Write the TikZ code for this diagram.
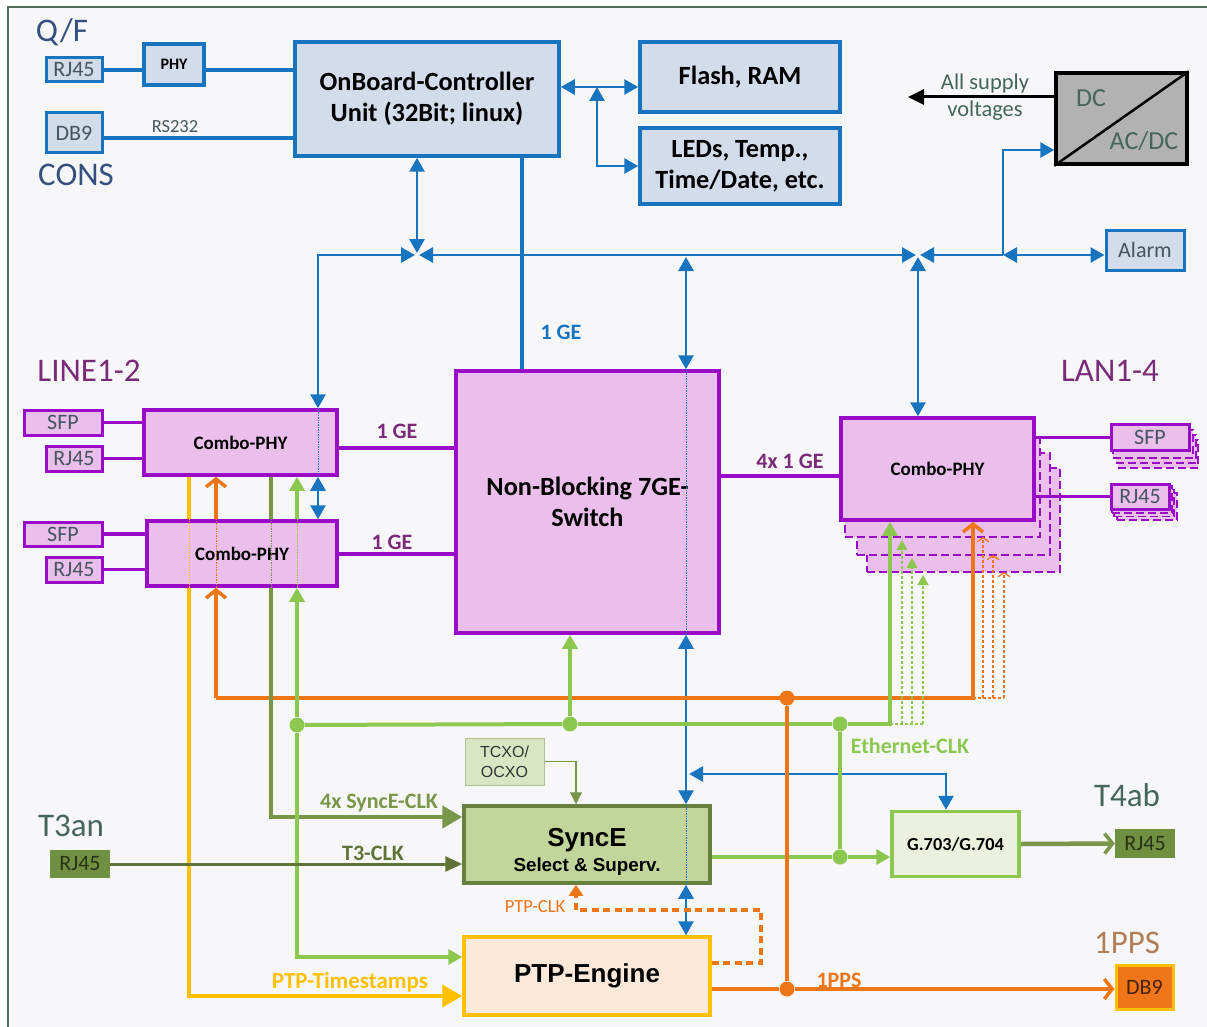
\documentclass[tikz,border=0pt]{standalone}
\usepackage{xcolor}
\usepackage{fontspec}
\usepackage{tikz}
\usetikzlibrary{positioning,arrows.meta,calc}
\setmainfont{Carlito}
\newfontfamily\arialfont{Liberation Sans}
\newcommand{\fsz}[2]{\fontsize{#1}{#2}\selectfont}
\definecolor{pagebg}{HTML}{F7F7F9}
\definecolor{framecol}{HTML}{4F6F5F}
\definecolor{blueline}{HTML}{1874BE}
\definecolor{bluefill}{HTML}{D2DCEA}
\definecolor{bluetext}{HTML}{34507E}
\definecolor{purpline}{HTML}{9A0BC8}
\definecolor{purpfill}{HTML}{EBBFEC}
\definecolor{purptext}{HTML}{7A2A78}
\definecolor{clkgreen}{HTML}{8CC850}
\definecolor{olive}{HTML}{7A9648}
\definecolor{syncefill}{HTML}{C2D69B}
\definecolor{darkolive}{HTML}{5F7436}
\definecolor{rjgreen}{HTML}{6F9040}
\definecolor{orangeline}{HTML}{EE7518}
\definecolor{yellowline}{HTML}{FFC000}
\definecolor{ptpfill}{HTML}{FDE9D9}
\definecolor{gfill}{HTML}{EBF1DE}
\definecolor{greytext}{HTML}{45565F}
\definecolor{labgreen}{HTML}{45665A}
\begin{document}
\begin{tikzpicture}[
  x=1pt, y=-1pt,
  >={Triangle[length=14pt,width=15pt]},
  blubox/.style={draw=blueline, line width=3.5pt, fill=bluefill, align=center, inner sep=0pt, text=black},
  purbox/.style={draw=purpline, line width=3.5pt, fill=purpfill, align=center, inner sep=0pt, text=black},
  ghostbox/.style={draw=purpline, line width=1.2pt, dash pattern=on 8pt off 4pt, fill=purpfill},
  portbox/.style={line width=3pt, inner sep=0pt, text=greytext, font=\fsz{22}{26}},
  biglabel/.style={inner sep=0pt, font=\fsz{33}{38}},
  midlabel/.style={inner sep=0pt, font=\fsz{22}{26}\bfseries},
  comboname/.style={font=\fsz{19}{23}\bfseries},
  bluearr/.style={draw=blueline, line width=2.8pt},
  blueline thick/.style={draw=blueline, line width=3.5pt},
  purline/.style={draw=purpline, line width=3.5pt},
  greenarr/.style={draw=clkgreen, line width=4pt},
  orangearr/.style={draw=orangeline, line width=4pt},
  barbs/.style={>={Straight Barb[length=8pt,width=20pt,line width=3.5pt]}},
  smalltri/.style={>={Triangle[length=10pt,width=11pt]}},
  thinpass/.style={densely dotted, line width=0.7pt},
  dotnode/.style={circle, inner sep=0pt, minimum size=15pt}
]
\useasboundingbox (0,0) rectangle (1207,1027);
\fill[pagebg] (8,7) rectangle (1207,1027);
\draw[framecol, line width=1.5pt] (8,1027) -- (8,7) -- (1207,7);

% controller part
\node[blubox, portbox, minimum width=56, minimum height=24] (rjqf) at (74,70) {RJ45};
\node[blubox, minimum width=60, minimum height=41, font=\fsz{16}{20}\bfseries] (phyqf) at (174,64.5) {PHY};
\node[blubox, portbox, minimum width=56, minimum height=40] (dbcons) at (74,133) {DB9};
\node[blubox, minimum width=264, minimum height=114, font=\fsz{26.3}{31}\bfseries] (onboard) at (427,99) {OnBoard-Controller\\Unit (32Bit; linux)};
\node[blubox, minimum width=200, minimum height=70, font=\fsz{26.3}{31}\bfseries] (flash) at (740,77) {Flash, RAM};
\node[blubox, minimum width=200, minimum height=76, font=\fsz{26.3}{31}\bfseries] (leds) at (740,166) {LEDs, Temp.,\\Time/Date, etc.};
\node[draw=black, line width=3.5pt, fill=black!30, minimum width=131, minimum height=91] (dcbox) at (1121.5,118.5) {};
\node[blubox, line width=3pt, text=greytext, minimum width=78, minimum height=40, font=\fsz{22}{26}] (alarm) at (1145,250) {Alarm};

\node[biglabel, text=bluetext] (lblqf) at (62,32) {Q/F};
\node[biglabel, text=bluetext] (lblcons) at (76,175) {CONS};
\node[inner sep=0pt, text=labgreen, align=center, font=\fsz{22.5}{27}] (lblsupply) at (985,97) {All supply\\voltages};
\node[inner sep=0pt, text=labgreen, font=\fsz{26}{30}] (lbldc) at (1091,98) {DC};
\node[inner sep=0pt, text=labgreen, font=\fsz{26}{30}] (lblacdc) at (1144,141) {AC/DC};
\node[inner sep=0pt, text=greytext, font=\fsz{18.5}{22}] (lblrs) at (175,127) {RS232};
\node[midlabel, text=blueline] (lblgeb) at (561,332) {1 GE};

% ghost boxes of the LAN side
\node[ghostbox, minimum width=193, minimum height=104] (ghostc) at (963.5,520) {};
\node[ghostbox, minimum width=193, minimum height=102] (ghostb) at (953.5,504) {};
\node[ghostbox, minimum width=195, minimum height=99] (ghosta) at (942.5,487.5) {};
\node[ghostbox, minimum width=80, minimum height=28] (sfpgc) at (1158,454) {};
\node[ghostbox, minimum width=80, minimum height=28] (sfpgb) at (1156,449) {};
\node[ghostbox, minimum width=80, minimum height=28] (sfpga) at (1153,444) {};
\node[ghostbox, minimum width=60, minimum height=27] (rjgc) at (1147,506.5) {};
\node[ghostbox, minimum width=60, minimum height=27] (rjgb) at (1144,503) {};
\node[ghostbox, minimum width=60, minimum height=27] (rjga) at (1142,499.5) {};

% switch and PHYs
\node[purbox, minimum width=263, minimum height=262, font=\fsz{26.3}{31}\bfseries] (switch) at (587.5,502) {Non-Blocking 7GE-\\Switch};
\node[purbox, comboname, minimum width=193, minimum height=65] (comboa) at (240.5,442.5) {Combo-PHY};
\node[purbox, comboname, minimum width=190, minimum height=65] (combob) at (242,553.5) {Combo-PHY};
\node[purbox, comboname, minimum width=193, minimum height=102] (combor) at (937.5,469) {Combo-PHY};
\node[purbox, portbox, minimum width=78, minimum height=25] (sfpa) at (63,422.5) {SFP};
\node[purbox, portbox, minimum width=56, minimum height=25] (rja) at (74,458.5) {RJ45};
\node[purbox, portbox, minimum width=78, minimum height=24] (sfpb) at (63,534) {SFP};
\node[purbox, portbox, minimum width=56, minimum height=25] (rjb) at (74,569.5) {RJ45};
\node[purbox, portbox, minimum width=78, minimum height=26] (sfpr) at (1150,437.5) {SFP};
\node[purbox, portbox, minimum width=58, minimum height=25] (rjr) at (1140,496.5) {RJ45};

\node[biglabel, text=purptext] (lblline) at (89,371) {LINE1-2};
\node[biglabel, text=purptext] (lbllan) at (1110,371) {LAN1-4};
\node[midlabel, text=purptext] (lblgea) at (397,431) {1 GE};
\node[midlabel, text=purptext] (lblgeo) at (392,542) {1 GE};
\node[midlabel, text=purptext] (lblgef) at (790,461) {4x 1 GE};

% clock part
\node[fill=syncefill, draw=olive!85!black, line width=3.5pt, minimum width=246, minimum height=77, inner sep=0pt, align=center] (synce) at (587,844.5) {\rule{0pt}{33pt}{\arialfont\fsz{26}{26}\bfseries SyncE}\\[5pt]{\arialfont\fsz{18.8}{20}\bfseries Select \& Superv.}};
\node[fill=syncefill!60!white, draw=olive!60!white, line width=1pt, minimum width=79, minimum height=47, inner sep=0pt, align=center, text=black!80, font=\arialfont\fsz{16}{20}] (tcxo) at (504.5,761.5) {TCXO/\\OCXO};
\node[fill=ptpfill, draw=yellowline, line width=3.5pt, minimum width=246, minimum height=78, inner sep=0pt, font=\arialfont\fsz{26}{30}\bfseries] (ptp) at (587,976) {PTP-Engine};
\node[fill=gfill, draw=clkgreen, line width=3.5pt, minimum width=127, minimum height=65, inner sep=0pt, font=\fsz{18.3}{22}\bfseries] (gsev) at (955.5,844) {G.703/G.704};
\node[fill=rjgreen, minimum width=60, minimum height=29, inner sep=0pt, text=black!65!rjgreen, font=\fsz{22}{26}] (rjtf) at (1145,843.5) {RJ45};
\node[fill=rjgreen, minimum width=60, minimum height=28, inner sep=0pt, text=black!65!rjgreen, font=\fsz{22}{26}] (rjtt) at (80,864) {RJ45};
\node[fill=orangeline, draw=yellowline, line width=3pt, minimum width=57, minimum height=44, inner sep=0pt, text=black!70!orangeline, font=\fsz{22}{26}] (dbpps) at (1144.5,987) {DB9};

\node[biglabel, text=labgreen] (lbltt) at (71,826) {T3an};
\node[biglabel, text=labgreen] (lbltf) at (1127,795) {T4ab};
\node[biglabel, text=orangeline!60!black!70!white] (lblpps) at (1127,943) {1PPS};
\node[midlabel, text=clkgreen] (lbleth) at (910,746) {Ethernet-CLK};
\node[midlabel, text=olive] (lblsync) at (379,803) {4x SyncE-CLK};
\node[midlabel, text=darkolive] (lblclk) at (373,853) {T3-CLK};
\node[midlabel, text=yellowline, font=\fsz{23}{27}\bfseries] (lblts) at (350,982) {PTP-Timestamps};
\node[inner sep=0pt, text=orangeline, font=\fsz{18.5}{22}] (lblptpclk) at (535,907) {PTP-CLK};
\node[midlabel, text=orangeline] (lblpps2) at (839,980) {1PPS};

\node[dotnode, fill=clkgreen] (dota) at (297,725) {};
\node[dotnode, fill=clkgreen] (dotb) at (570,724) {};
\node[dotnode, fill=clkgreen] (dotc) at (840,724) {};
\node[dotnode, fill=clkgreen] (dotd) at (840,857) {};
\node[dotnode, fill=orangeline] (dote) at (787,698) {};
\node[dotnode, fill=orangeline] (dotf) at (787,989) {};

\coordinate (busa) at (318,255);
\coordinate (busb) at (417,255);
\coordinate (busc) at (918,255);
\coordinate (busd) at (1003,255);
\coordinate (branch) at (597,87);
\coordinate (syncleft) at (271,817);
\coordinate (tsleft) at (189,996);
\coordinate (orleft) at (216,698);
\coordinate (gbus) at (890,724);
\coordinate (ptpgreen) at (297,957);
\coordinate (gsline) at (689,774);
\coordinate (supply) at (908,97);
\coordinate (dclk) at (761,910);

% blue lines
\draw[blueline thick] (rjqf.east) -- (rjqf.east -| phyqf.west);
\draw[blueline thick] (rjqf.east -| phyqf.east) -- (rjqf.east -| onboard.west);
\draw[blueline thick] (dbcons.east |- 0,138) -- (onboard.west |- 0,138);
\draw[blueline thick] (onboard.south -| 522,0) -- (switch.north -| 522,0);
\draw[bluearr, <->] (onboard.south -| busb) -- ($(busb)+(0,-2)$);
\draw[bluearr, <->] ($(busb)+(-2,0)$) -- (busa) -- (comboa.north -| busa);
\draw[bluearr, <->] ($(busb)+(2,0)$) -- ($(busc)+(-2,0)$);
\draw[bluearr, <-] ($(busc)+(2,0)$) -- (busd);
\draw[bluearr, <->] (busd) -- (alarm.west |- busd);
\draw[bluearr, <->] ($(busc)+(0,2)$) -- (combor.north -| busc);
\draw[bluearr, ->] (busd) |- (dcbox.west |- 0,150);
\draw[bluearr, <->] (comboa.south -| busa) -- (combob.north -| busa);
\draw[bluearr, <->] (switch.north -| 686,0) -- (686,257);
\draw[bluearr, <->] (switch.south -| 686,0) -- (synce.north -| 686,0);
\draw[bluearr, <->] (synce.south -| 686,0) -- (ptp.north -| 686,0);
\draw[bluearr, <->] (onboard.east |- branch) -- (flash.west |- branch);
\draw[bluearr, <->] (branch) |- (leds.west);
\draw[bluearr, <->] (gsline) -| (gsev.north -| 946,0);
\draw[blueline, thinpass] (comboa.north -| busa) -- (comboa.south -| busa);
\draw[blueline, thinpass] (switch.north -| 686,0) -- (switch.south -| 686,0);
\draw[blueline, thinpass] (synce.north -| 686,0) -- (synce.south -| 686,0);
\draw[black, line width=3pt, ->, >={Triangle[length=16pt,width=15pt]}] (dcbox.west |- supply) -- (supply);
\draw[black, line width=2.5pt] (dcbox.south west) -- (dcbox.north east);

% purple lines
\draw[purline] (sfpa.east) -- (sfpa.east -| comboa.west);
\draw[purline] (rja.east) -- (rja.east -| comboa.west);
\draw[purline] (sfpb.east) -- (sfpb.east -| combob.west);
\draw[purline] (rjb.east) -- (rjb.east -| combob.west);
\draw[purline] (comboa.east |- 0,448) -- (switch.west |- 0,448);
\draw[purline] (combob.east |- 0,554) -- (switch.west |- 0,554);
\draw[purline] (switch.east |- 0,476) -- (combor.west |- 0,476);
\draw[purline] (combor.east |- sfpr.west) -- (sfpr.west);
\draw[purline] (combor.east |- rjr.west) -- (rjr.west);

% clock lines
\draw[draw=yellowline, line width=4pt] (comboa.south -| tsleft) -- (combob.north -| tsleft);
\draw[draw=yellowline, line width=4pt, ->, >={Triangle[length=20pt,width=22pt]}] (combob.south -| tsleft) -- (tsleft) -- (ptp.west |- tsleft);
\draw[orangearr, barbs, ->] (combob.north -| orleft) -- (comboa.south -| orleft);
\draw[orangearr, barbs, ->] (orleft) -- (combob.south -| orleft);
\draw[orangearr, barbs, ->] (orleft) -| (combor.south -| 973,0);
\draw[draw=olive, line width=4.5pt] (comboa.south -| syncleft) -- (combob.north -| syncleft);
\draw[draw=olive, line width=4.5pt, ->, >={Triangle[length=20pt,width=22pt]}] (combob.south -| syncleft) -- (syncleft) -- (synce.west |- syncleft);
\draw[greenarr, ->] (combob.north -| ptpgreen) -- (comboa.south -| ptpgreen);
\draw[greenarr, ->] (dota) -- (combob.south -| ptpgreen);
\draw[greenarr, ->] (dota) -- (ptpgreen) -- (ptp.west |- ptpgreen);
\draw[greenarr] (dota) -- (dotb);
\draw[greenarr, ->] (dotb) -- (switch.south -| dotb);
\draw[greenarr] (dotb) -- (dotc);
\draw[greenarr, ->] (dotc) -- (gbus) -- (combor.south -| gbus);
\draw[greenarr] (dotc) -- (dotd);
\draw[greenarr] (synce.east |- dotd) -- (dotd);
\draw[greenarr, ->] (dotd) -- (gsev.west |- dotd);
\draw[orangearr] (dote) -- (dotf);
\draw[orangearr] (ptp.east |- dotf) -- (dotf);
\draw[orangearr, barbs, ->] (dotf) -- (dbpps.west |- dotf);
\draw[draw=olive, line width=4.5pt, barbs, ->] (gsev.east) -- (rjtf.west);
\draw[draw=darkolive, line width=3pt, ->, >={Triangle[length=17pt,width=15pt]}] (rjtt.east) -- (synce.west |- rjtt.east);
\draw[draw=olive, line width=1.2pt, ->, >={Triangle[length=12pt,width=12pt]}] (tcxo.east) -| (synce.north -| 576,0);
\draw[draw=orangeline, line width=3.5pt, dash pattern=on 7pt off 4.5pt, ->, >={Triangle[length=11pt,width=14pt]}] (ptp.east |- 0,963) -| (dclk) -| (synce.south -| 576,0);
\foreach \tx/\ty in {902/540,912/558,923/575}
  \draw[draw=clkgreen, line width=1.2pt, densely dashed, smalltri, ->] (\tx,724) -- (\tx,\ty);
\draw[draw=clkgreen, line width=1.2pt, densely dashed] (890,724) -- (923,724);
\foreach \tx/\ty in {983/537,993/555,1004/572}
  \draw[draw=orangeline, line width=1.2pt, densely dashed, >={Straight Barb[length=4pt,width=12pt]}, ->] (\tx,698) -- (\tx,\ty);
\draw[draw=orangeline, line width=1.2pt, densely dashed] (973,698) -- (1004,698);
\draw[yellowline, thinpass] (combob.north -| tsleft) -- (combob.south -| tsleft);
\draw[orangeline, thinpass] (combob.north -| orleft) -- (combob.south -| orleft);
\draw[olive, thinpass] (combob.north -| syncleft) -- (combob.south -| syncleft);
\draw[clkgreen, thinpass] (combob.north -| ptpgreen) -- (combob.south -| ptpgreen);
\end{tikzpicture}
\end{document}
